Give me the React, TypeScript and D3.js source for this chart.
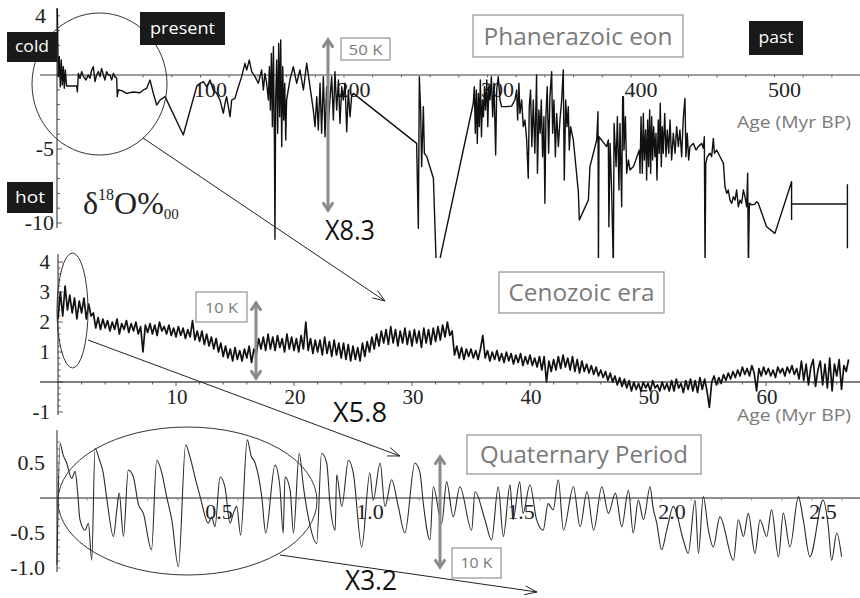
import React from "react";
import * as d3 from "d3";

type Pt = [number, number];

// Phanerozoic δ18O record: [age (Myr BP), δ18O ‰]; null splits the path
const phanerozoic: (Pt | null)[] = [
  [0.2, 4.5], [0.9, -0.11], [1.6, 1.24], [2.3, -0.79], [3.0, 1.01], [3.7, -0.68], [4.4, 0.56], [5.1, -0.9],
  [5.8, 0.34], [6.7, -0.74], [7.9, -0.74], [13.7, -0.74], [14.2, -1.13], [14.9, 0.11], [16.0, -0.22],
  [17.2, 0.23], [18.4, -0.11], [20.2, -0.34], [21.8, 0], [23.0, -0.22], [24.2, 0.34], [25.3, 0.56],
  [26.5, -0.45], [27.6, 0], [28.8, 0.23], [30.0, -0.11], [31.1, 0.45], [32.3, 0], [33.4, -0.34],
  [34.6, 0.23], [35.8, 0], [36.9, 0], [38.1, -0.34], [39.3, 0.11], [40.4, -0.11], [41.6, -0.22],
  [42.0, -1.46], [42.7, -1.01], [45.1, -1.06], [48.5, -1.24], [53.2, -1.15], [57.8, -1.2], [60.2, -1.01],
  [62.5, -0.9], [64.8, -0.34], [67.1, -1.24], [69.5, -2.03], [71.8, -1.69], [75.3, -1.46], [88.0, -4.05],
  [97.3, -0.79], [99.7, -0.56], [102.0, -0.45], [104.3, -0.79], [106.6, -0.34], [108.9, -1.01],
  [111.3, -1.24], [113.6, -1.69], [115.9, -2.59], [117.1, -1.91], [118.2, -1.46], [120.6, -2.82],
  [121.7, -1.69], [124.0, -1.58], [126.4, -0.79], [128.7, -0.11], [131.0, 0.79], [132.2, 0.34],
  [134.0, 1.01], [135.7, 0.23], [138.0, -0.11], [140.3, -0.56], [142.6, 0.34], [143.8, -1.01],
  [144.9, 0.11], [146.1, -0.56], [147.3, -1.69], [148.0, 0.56], [148.7, -2.36], [149.4, 1.46],
  [150.1, -3.49], [150.8, 1.91], [151.5, -4.39], [151.9, -11.1], [152.4, -1.69], [153.1, 1.01],
  [153.8, -3.94], [154.5, 2.14], [155.2, -2.82], [155.9, 2.36], [156.6, -4.84], [157.3, 0.56],
  [158.0, -3.04], [158.7, -0.56], [159.4, -4.39], [160.0, -1.69], [162.3, -0.34], [164.7, 0.56],
  [167.0, -0.56], [169.3, 0.34], [171.7, -1.01], [174.0, 0.79], [176.3, -0.79], [178.6, -2.36],
  [179.8, -3.49], [181.0, -1.46], [182.1, -3.72], [183.3, -0.56], [184.4, -3.94], [185.6, -0.11],
  [186.8, -4.17], [187.9, -0.79], [189.1, -3.27], [190.2, -1.69], [191.4, -0.11], [192.6, -3.04],
  [193.7, 0.23], [194.9, -2.36], [196.1, -0.34], [197.2, -3.27], [198.4, -0.79], [199.5, -1.69],
  [200.7, -0.56], [201.9, -3.83], [203.0, -1.01], [204.2, -2.82], [205.3, -1.46], [206.5, -1.24],
  [250.6, -4.62], [251.8, -10.36], [252.5, -0.11], [253.4, -2.36], [254.1, -6.19], [255.3, -2.14],
  [256.0, -5.29], [257.7, -5.52], [262.3, -6.98], [264.5, -13.5], [290.1, -1.91], [290.8, -0.79],
  [291.5, -3.94], [292.2, -1.01], [292.9, -4.62], [293.6, -1.24], [294.3, -3.49], [295.0, -0.34],
  [295.8, -4.17], [296.5, -1.69], [297.2, -2.82], [297.9, -0.79], [298.6, -2.36], [299.5, -0.34],
  [300.2, -3.49], [300.9, -0.79], [301.7, -1.69], [302.7, -0.11], [303.6, -2.82], [304.5, -0.56],
  [305.7, -5.4], [306.4, -1.01], [307.5, -0.11], [308.7, -1.69], [309.8, -2.14], [313.3, -2.14],
  [316.8, -2.1], [319.1, -1.69], [320.3, -1.01], [321.0, -3.04], [321.9, -0.56], [322.6, -2.59],
  [323.8, -1.69], [324.9, -3.49], [326.1, -3.04], [327.3, -4.39], [328.4, -6.98], [329.1, -2.14],
  [330.0, -1.01], [330.9, -4.84], [331.9, -1.69], [333.0, -5.29], [334.2, 0], [334.8, -6.64],
  [335.8, -2.36], [336.7, -3.94], [337.5, -1.69], [338.4, -5.52], [339.3, -2.82], [340.0, -8.67],
  [340.7, -2.82], [341.6, -0.79], [342.6, -5.29], [343.5, -1.46], [344.7, 0.23], [345.4, -3.94],
  [346.3, -1.69], [347.3, -5.52], [348.2, -2.59], [349.4, -4.84], [350.5, -3.04], [351.7, -1.69],
  [352.8, 0.34], [353.5, -7.09], [354.5, -1.69], [355.4, -3.49], [356.3, -2.14], [357.0, -5.07],
  [357.9, -3.49], [359.8, -4.39], [363.3, -7.88], [364.0, -9.8], [366.8, -9.2], [370.3, -8.45],
  [371.4, -6.19], [376.1, -4.39], [377.0, -2.48], [377.3, -13], [377.7, -4.17], [383.0, -4.84],
  [384.2, -4.39], [384.6, -10.25], [385.4, -4.62], [386.5, -7.77], [387.7, -13], [388.2, -3.27],
  [389.6, -6.19], [390.5, -2.82], [391.6, -7.77], [392.3, -3.27], [393.5, -8.9], [394.2, -1.46],
  [394.7, -1.46], [395.1, -5.07], [396.1, -2.82], [397.0, -6.64], [398.2, -5.74], [399.3, -6.42],
  [401.7, -6.19], [405.8, -5.07], [406.3, -6.64], [407.0, -2.82], [407.9, -6.64], [408.6, -2.59],
  [409.3, -5.74], [410.2, -3.72], [410.9, -7.09], [411.6, -3.04], [412.3, -6.19], [413.0, -2.36],
  [413.7, -6.64], [414.4, -2.82], [415.1, -5.74], [415.8, -3.49], [416.7, -5.52], [417.4, -3.94],
  [418.1, -7.09], [419.0, -3.04], [419.7, -5.29], [420.4, -1.91], [421.1, -6.19], [421.8, -3.49],
  [422.5, -5.29], [423.5, -2.59], [424.4, -5.52], [425.3, -3.72], [426.3, -5.29], [427.2, -3.04],
  [428.3, -5.74], [429.5, -3.94], [430.7, -5.29], [431.8, -3.49], [433.0, -4.84], [434.1, -3.72],
  [435.3, -5.52], [436.5, -2.82], [437.6, -1.58], [438.3, -5.52], [439.2, -3.94], [440.2, -5.74],
  [441.1, -4.84], [443.4, -4.62], [445.3, -5.07], [446.9, -4.84], [449.3, -4.62], [450.4, -4.95],
  [451.1, -4.17], [451.6, -13], [452.1, -5.97], [453.2, -5.52], [455.1, -5.29], [456.2, -5.52],
  [457.4, -4.28], [458.1, -5.29], [459.7, -5.07], [463.2, -5.74], [464.4, -5.97], [464.8, -6.53],
  [465.5, -7.55], [466.7, -8.0], [467.8, -7.77], [469.0, -8.45], [470.2, -8.67], [471.3, -8.22],
  [472.5, -8.45], [473.6, -7.77], [474.8, -8.9], [475.9, -8.45], [477.1, -8.67], [478.3, -7.77],
  [479.4, -8.22], [480.6, -8.9], [481.3, -6.64], [481.8, -13], [482.5, -8.67], [484.1, -8.78],
  [486.4, -8.72], [487.6, -8.56], [488.7, -8.67], [494.5, -10.25], [500.3, -10.7], [511.9, -7.21],
  [511.9, -9.8], null, [511.9, -8.72], [550.2, -8.72], null, [550.8, -7.38], [550.8, -11.71],
];

// Cenozoic δ18O, sampled every 0.2 Myr from 0 Myr BP
const cenozoicStep = 0.2;
const cenozoicValues: number[] = [
  2.1, 3.0, 2.2, 3.2, 2.4, 2.9, 2.3, 2.8, 2.1, 2.7,
  2.3, 2.8, 2.1, 2.6, 2.2, 2.3, 1.8, 2.15, 1.75, 2.1,
  1.8, 2.05, 1.7, 2.0, 1.75, 2.1, 1.6, 1.95, 1.75, 2.05,
  1.65, 1.95, 1.7, 2.0, 1.6, 1.85, 1.0, 1.9, 1.65, 1.95,
  1.6, 1.9, 1.55, 2.0, 1.7, 1.85, 1.6, 1.9, 1.55, 1.8,
  1.5, 1.85, 1.55, 1.8, 1.45, 1.75, 1.5, 2.05, 1.4, 1.7,
  1.35, 1.7, 1.25, 1.6, 1.2, 1.5, 1.1, 1.45, 1.0, 1.3,
  0.85, 1.2, 0.8, 1.1, 0.7, 1.15, 0.75, 1.05, 0.7, 1.1,
  0.8, 1.2, 0.65, 1.1, 0.9, 1.45, 1.1, 1.5, 1.05, 1.6,
  1.1, 1.5, 1.05, 1.55, 1.15, 1.45, 1.0, 1.6, 1.1, 1.5,
  1.05, 1.45, 1.0, 1.55, 1.1, 2.0, 1.05, 1.45, 0.95, 1.4,
  1.0, 1.4, 0.9, 1.5, 0.95, 1.35, 0.85, 1.4, 0.9, 1.3,
  0.8, 1.3, 0.75, 1.25, 0.7, 1.2, 0.75, 1.15, 0.7, 1.3,
  0.85, 1.35, 1.0, 1.5, 1.1, 1.6, 1.2, 1.7, 1.3, 1.75,
  1.25, 1.85, 1.3, 1.75, 1.2, 1.7, 1.3, 1.8, 1.25, 1.7,
  1.2, 1.75, 1.3, 1.7, 1.15, 1.8, 1.3, 1.75, 1.25, 1.8,
  1.35, 1.85, 1.4, 1.9, 1.5, 2.0, 1.55, 1.7, 0.9, 1.2,
  0.8, 1.15, 0.75, 1.1, 0.85, 1.1, 0.8, 1.05, 0.75, 1.1,
  1.55, 0.8, 1.05, 0.7, 1.0, 0.75, 1.05, 0.7, 0.95, 0.65,
  1.0, 0.7, 0.95, 0.6, 0.9, 0.65, 0.95, 0.55, 0.85, 0.6,
  0.9, 0.55, 0.8, 0.5, 0.85, 0.4, 0.85, 0.0, 0.7, 0.35,
  0.75, 0.4, 0.85, 0.45, 0.9, 0.5, 0.8, 0.4, 0.85, 0.35,
  0.75, 0.3, 0.7, 0.35, 0.6, 0.3, 0.55, 0.25, 0.5, 0.2,
  0.4, 0.15, 0.35, 0.05, 0.3, 0.0, 0.2, -0.1, 0.15, -0.15,
  0.1, -0.2, 0.05, -0.3, 0.0, -0.25, -0.05, -0.3, 0.0, -0.2,
  -0.05, -0.3, 0.05, -0.2, -0.1, -0.3, 0.0, -0.25, -0.05, -0.3,
  0.05, -0.3, 0.1, -0.2, -0.05, -0.35, 0.05, -0.25, 0.1, -0.3,
  0.05, -0.35, 0.15, -0.25, 0.1, -0.3, -0.85, 0.0, 0.2, -0.1,
  0.15, -0.05, 0.25, 0.05, 0.3, 0.1, 0.35, 0.15, 0.4, 0.2,
  0.5, 0.25, 0.45, 0.2, 0.55, 0.3, -0.3, 0.45, 0.2, 0.5,
  0.25, 0.45, 0.2, 0.4, 0.15, 0.5, 0.3, 0.45, 0.2, 0.5,
  0.3, 0.55, 0.25, 0.45, 0.1, 0.7, 0.05, 0.6, -0.1, 0.5,
  0.75, -0.15, 0.4, 0.7, -0.1, 0.6, -0.2, 0.8, -0.3, 0.6,
  0.2, 0.75, -0.25, 0.55, 0.35, 0.75,
];

// Quaternary δ18O anomaly: [age (Myr BP), value]
const quaternary: Pt[] = [
  [0, -0.95], [0.01, 0.78], [0.02, 0.62], [0.032, 0.5], [0.049, 0.28], [0.06, 0.38], [0.068, 0.1],
  [0.076, -0.31], [0.093, -0.46], [0.104, -0.36], [0.115, -0.89], [0.126, 0.71], [0.14, 0.55],
  [0.153, 0.36], [0.164, 0.02], [0.187, -0.55], [0.198, -0.17], [0.206, 0.07], [0.22, -0.55],
  [0.236, 0.4], [0.253, 0.3], [0.269, -0.08], [0.286, -0.22], [0.313, -0.74], [0.33, 0.54],
  [0.347, 0.36], [0.363, 0.02], [0.38, -0.31], [0.402, -0.98], [0.426, 0.76], [0.44, 0.59],
  [0.462, 0.21], [0.474, 0.02], [0.501, -0.36], [0.512, -0.27], [0.523, -0.41], [0.54, 0.3],
  [0.556, 0.16], [0.573, -0.36], [0.584, -0.22], [0.595, -0.12], [0.608, -0.53], [0.63, 0.83],
  [0.643, 0.6], [0.656, 0.5], [0.678, 0.02], [0.691, -0.5], [0.722, 0.47], [0.738, 0.16],
  [0.749, -0.5], [0.755, 0.3], [0.772, 0.11], [0.783, -0.5], [0.802, 0.64], [0.816, 0.16],
  [0.832, -0.27], [0.86, -0.65], [0.876, 0.64], [0.893, 0.5], [0.904, -0.08], [0.921, -0.46],
  [0.926, 0.33], [0.943, -0.12], [0.965, 0.54], [0.981, 0.36], [1.009, -0.7], [1.036, 0.36],
  [1.047, -0.03], [1.07, 0.5], [1.086, -0.12], [1.108, 0.26], [1.13, -0.12], [1.152, -0.5],
  [1.185, 0.5], [1.202, 0.36], [1.213, -0.08], [1.235, -0.6], [1.246, 0.16], [1.274, -0.36],
  [1.29, 0.23], [1.312, -0.27], [1.334, 0.16], [1.373, -0.46], [1.384, 0.09], [1.417, -0.31],
  [1.439, -0.6], [1.461, 0.16], [1.478, -0.55], [1.5, 0.19], [1.51, -0.31], [1.532, 0.23],
  [1.543, -0.22], [1.566, 0.19], [1.588, -0.31], [1.61, -0.46], [1.626, -0.08], [1.643, -0.17],
  [1.66, 0.26], [1.677, -0.46], [1.71, 0.16], [1.732, -0.41], [1.755, 0.09], [1.777, -0.46],
  [1.804, 0.16], [1.826, -0.22], [1.849, 0.07], [1.87, -0.41], [1.892, 0.11], [1.908, -0.5],
  [1.925, -0.03], [1.942, -0.31], [1.964, 0.16], [1.973, -0.12], [1.986, -0.36], [2.002, -0.74],
  [2.019, -0.46], [2.041, -0.12], [2.074, -0.6], [2.09, -0.79], [2.113, -0.03], [2.124, -0.79],
  [2.14, 0.02], [2.157, -0.46], [2.173, -0.7], [2.195, -0.27], [2.24, -0.89], [2.256, -0.31],
  [2.273, -0.55], [2.289, -0.22], [2.311, -0.79], [2.328, -0.31], [2.35, -0.55], [2.366, -0.17],
  [2.389, -0.84], [2.405, -0.22], [2.427, -0.7], [2.455, 0.02], [2.471, -0.31], [2.493, -0.84],
  [2.537, -0.03], [2.554, -0.41], [2.565, -0.89], [2.582, -0.5], [2.598, -0.84],
];

const topAgeTicks = [100, 200, 300, 400, 500];
const topValueTicks = [4, -5, -10];
const midAgeTicks = [10, 20, 30, 40, 50, 60];
const midValueTicks = [4, 3, 2, 1, -1];
const botAgeTicks = [0.5, 1.0, 1.5, 2.0, 2.5];
const botValueTicks = [0.5, -0.5, -1.0];

const SERIF = "'Liberation Serif', 'DejaVu Serif', serif";
const SANS = "'Open Sans', 'Noto Sans', sans-serif";
const GRAY = "#7a7a7a";

const fmtInt = (v: number) => String(v).replace("\u2212", "-");
const fmt1 = (v: number) => v.toFixed(1);

function chevron(x1: number, y1: number, x2: number, y2: number, len: number, ang: number) {
  const t = Math.atan2(y1 - y2, x1 - x2);
  const a = [x2 + len * Math.cos(t + ang), y2 + len * Math.sin(t + ang)];
  const b = [x2 + len * Math.cos(t - ang), y2 + len * Math.sin(t - ang)];
  return `M${a[0]},${a[1]}L${x2},${y2}L${b[0]},${b[1]}`;
}

function Connector({ x1, y1, x2, y2 }: { x1: number; y1: number; x2: number; y2: number }) {
  return (
    <g stroke="#222" strokeWidth={1} fill="none">
      <line x1={x1} y1={y1} x2={x2} y2={y2} />
      <path d={chevron(x1, y1, x2, y2, 13, 0.35)} />
    </g>
  );
}

function DoubleArrow({ x, y1, y2 }: { x: number; y1: number; y2: number }) {
  return (
    <g stroke="#8a8a8a" strokeWidth={3} fill="none" strokeLinecap="round">
      <line x1={x} y1={y1} x2={x} y2={y2} />
      <path d={chevron(x, y2, x, y1, 8, 0.6)} />
      <path d={chevron(x, y1, x, y2, 8, 0.6)} />
    </g>
  );
}

function OutlineLabel({ x, y, w, h, text, size, textW, base }: {
  x: number; y: number; w: number; h: number; text: string; size: number; textW: number; base: number;
}) {
  return (
    <g>
      <rect x={x} y={y} width={w} height={h} fill="white" stroke="#9a9a9a" strokeWidth={1.3} />
      <text x={x + w / 2} y={base} textAnchor="middle" fontFamily={SANS} fontSize={size} fill={GRAY}
        textLength={textW} lengthAdjust="spacingAndGlyphs">{text}</text>
    </g>
  );
}

function DarkLabel({ x, y, w, h, text, textW, base }: {
  x: number; y: number; w: number; h: number; text: string; textW: number; base: number;
}) {
  return (
    <g>
      <rect x={x} y={y} width={w} height={h} fill="#1a1a1a" />
      <text x={x + w / 2} y={base} textAnchor="middle" fontFamily={SANS} fontSize={17} fill="white"
        textLength={textW} lengthAdjust="spacingAndGlyphs">{text}</text>
    </g>
  );
}

export default function App() {
  // panel scales
  const xTop = d3.scaleLinear().domain([0, 560]).range([57, 57 + 560 * 1.435]);
  const yTop = d3.scaleLinear().domain([-10, 4]).range([223, 15.8]);
  const xMid = d3.scaleLinear().domain([0, 68]).range([58, 58 + 68 * 11.8]);
  const yMid = d3.scaleLinear().domain([-1, 4]).range([412, 262]);
  const xBot = d3.scaleLinear().domain([0, 2.65]).range([57, 57 + 2.65 * 302]);
  const yBot = d3.scaleLinear().domain([-1, 0.5]).range([568, 463]);

  const topLine = d3.line<Pt | null>()
    .defined((d) => d !== null)
    .x((d) => xTop((d as Pt)[0]))
    .y((d) => yTop((d as Pt)[1]));
  const midLine = d3.line<number>()
    .x((_, i) => xMid(i * cenozoicStep))
    .y((d) => yMid(d));
  const botLine = d3.line<Pt>()
    .x((d) => xBot(d[0]))
    .y((d) => yBot(d[1]))
    .curve(d3.curveMonotoneX);

  const topMinor = d3.range(20, 560, 20);
  const midMinor = d3.range(2, 68, 2);
  const botMinor = d3.range(0.1, 2.65, 0.1);
  const topYMinor = d3.range(-10, 4.01, 1);
  const midYMinor = d3.range(-1, 4.01, 0.2);
  const botYMinor = d3.range(-1, 0.81, 0.1);

  return (
    <svg width={860} height={598} viewBox="0 0 860 598"
      style={{ position: "absolute", left: 0, top: 0, background: "white" }}>
      <defs>
        <clipPath id="clipTop"><rect x={50} y={0} width={810} height={258} /></clipPath>
        <clipPath id="clipMid"><rect x={50} y={245} width={810} height={175} /></clipPath>
        <clipPath id="clipBot"><rect x={50} y={425} width={810} height={170} /></clipPath>
      </defs>

      {/* ---------- Phanerozoic panel ---------- */}
      <g>
        <line x1={40} x2={860} y1={yTop(0)} y2={yTop(0)} stroke="#7c7c7c" strokeWidth={1.6} />
        {topMinor.map((t) => (
          <line key={t} x1={xTop(t)} x2={xTop(t)} y1={yTop(0)} y2={yTop(0) + 2.5} stroke="#666" strokeWidth={1} />
        ))}
        <line x1={57} x2={57} y1={8} y2={228} stroke="#222" strokeWidth={1} />
        {topYMinor.map((t) => (
          <line key={t} x1={57} x2={t % 5 === 0 ? 62 : 60} y1={yTop(t)} y2={yTop(t)} stroke="#333" strokeWidth={0.8} />
        ))}
        {topValueTicks.map((t) => (
          <text key={t} x={t === 4 ? 46 : 54} y={yTop(t) + 7} textAnchor="end" fontFamily={SERIF} fontSize={22} fill="#222">
            {fmtInt(t)}
          </text>
        ))}
        {topAgeTicks.map((t) => (
          <text key={t} x={xTop(t) + 10} y={97} textAnchor="middle" fontFamily={SERIF} fontSize={22} fill="#222">
            {t}
          </text>
        ))}
        <path d={topLine(phanerozoic) ?? ""} fill="none" stroke="#111" strokeWidth={1.4}
          strokeLinejoin="round" clipPath="url(#clipTop)" />
        <text x={851} y={128} textAnchor="end" fontFamily={SANS} fontSize={17} fill={GRAY}
          textLength={114} lengthAdjust="spacingAndGlyphs">Age (Myr BP)</text>

        <ellipse cx={99.5} cy={84} rx={67.5} ry={71} fill="none" stroke="#333" strokeWidth={1} />
        <Connector x1={143} y1={138} x2={385} y2={301} />
        <DoubleArrow x={328} y1={40} y2={210} />
        <OutlineLabel x={341} y={38} w={49} h={22} text="50 K" size={15} textW={34} base={55} />
        <OutlineLabel x={473} y={15} w={210} h={42} text="Phanerazoic eon" size={24} textW={189} base={45} />
        <DarkLabel x={7} y={32} w={50} h={30} text="cold" textW={34} base={52} />
        <DarkLabel x={140} y={12} w={85} h={33} text="present" textW={65} base={34} />
        <DarkLabel x={7} y={182} w={46} h={31} text="hot" textW={30} base={203} />
        <DarkLabel x={749} y={21} w={54} h={34} text="past" textW={35} base={43} />
        <text x={83} y={214} fontFamily={SERIF} fontSize={32} fill="#222">
          δ<tspan fontSize={16} dy={-14}>18</tspan><tspan dy={14}>O%</tspan><tspan fontSize={15} dy={5}>00</tspan>
        </text>
        <text x={350} y={240} textAnchor="middle" fontFamily={SANS} fontSize={27} fill="#111"
          textLength={50} lengthAdjust="spacingAndGlyphs">X8.3</text>
      </g>

      {/* ---------- Cenozoic panel ---------- */}
      <g>
        <line x1={40} x2={860} y1={yMid(0)} y2={yMid(0)} stroke="#555" strokeWidth={1.3} />
        {midMinor.map((t) => (
          <line key={t} x1={xMid(t)} x2={xMid(t)} y1={yMid(0)} y2={yMid(0) + (t % 10 === 0 ? 4 : 2.5)} stroke="#555" strokeWidth={1} />
        ))}
        <line x1={58} x2={58} y1={254} y2={415} stroke="#222" strokeWidth={1} />
        {midYMinor.map((t) => (
          <line key={t.toFixed(1)} x1={58} x2={Math.abs(t - Math.round(t)) < 1e-6 ? 63 : 60.5} y1={yMid(t)} y2={yMid(t)} stroke="#333" strokeWidth={0.8} />
        ))}
        {midValueTicks.map((t) => (
          <text key={t} x={50} y={yMid(t) + 7} textAnchor="end" fontFamily={SERIF} fontSize={21} fill="#222">
            {fmtInt(t)}
          </text>
        ))}
        {midAgeTicks.map((t) => (
          <text key={t} x={xMid(t) + 1} y={404} textAnchor="middle" fontFamily={SERIF} fontSize={21} fill="#222">
            {t}
          </text>
        ))}
        <path d={midLine(cenozoicValues) ?? ""} fill="none" stroke="#111" strokeWidth={1.7}
          strokeLinejoin="round" clipPath="url(#clipMid)" />
        <text x={851} y={421} textAnchor="end" fontFamily={SANS} fontSize={17} fill={GRAY}
          textLength={114} lengthAdjust="spacingAndGlyphs">Age (Myr BP)</text>

        <ellipse cx={72.5} cy={310.5} rx={15.5} ry={57.5} fill="none" stroke="#333" strokeWidth={1} />
        <Connector x1={88} y1={340} x2={400} y2={456} />
        <DoubleArrow x={256} y1={303} y2={378} />
        <OutlineLabel x={196} y={292} w={51} h={30} text="10 K" size={15} textW={33} base={313} />
        <OutlineLabel x={499} y={272} w={165} h={41} text="Cenozoic era" size={24} textW={146} base={301} />
        <text x={360} y={422} textAnchor="middle" fontFamily={SANS} fontSize={27} fill="#111"
          textLength={54} lengthAdjust="spacingAndGlyphs">X5.8</text>
      </g>

      {/* ---------- Quaternary panel ---------- */}
      <g>
        <line x1={40} x2={860} y1={yBot(0)} y2={yBot(0)} stroke="#222" strokeWidth={1.2} />
        {botMinor.map((t) => (
          <line key={t.toFixed(1)} x1={xBot(t)} x2={xBot(t)} y1={yBot(0)} y2={yBot(0) + 2.5} stroke="#777" strokeWidth={0.8} />
        ))}
        <line x1={57} x2={57} y1={430} y2={572} stroke="#222" strokeWidth={1} />
        {botYMinor.map((t) => (
          <line key={t.toFixed(1)} x1={57} x2={60} y1={yBot(t)} y2={yBot(t)} stroke="#555" strokeWidth={0.8} />
        ))}
        {botValueTicks.map((t) => (
          <text key={t} x={45} y={yBot(t) + 7} textAnchor="end" fontFamily={SERIF} fontSize={22} fill="#222">
            {fmt1(t)}
          </text>
        ))}
        {botAgeTicks.map((t) => (
          <text key={t} x={xBot(t) + 11} y={519} textAnchor="middle" fontFamily={SERIF} fontSize={22} fill="#222">
            {fmt1(t)}
          </text>
        ))}
        <path d={botLine(quaternary) ?? ""} fill="none" stroke="#2a2a2a" strokeWidth={1.1}
          strokeLinejoin="round" clipPath="url(#clipBot)" />

        <ellipse cx={187.5} cy={501} rx={129.5} ry={74} fill="none" stroke="#333" strokeWidth={1} />
        <Connector x1={280} y1={555} x2={537} y2={592} />
        <DoubleArrow x={440} y1={457} y2={567} />
        <OutlineLabel x={452} y={548} w={49} h={30} text="10 K" size={15} textW={32} base={568} />
        <OutlineLabel x={467} y={435} w={234} h={39} text="Quaternary Period" size={24} textW={208} base={463} />
        <text x={371} y={590} textAnchor="middle" fontFamily={SANS} fontSize={27} fill="#111"
          textLength={52} lengthAdjust="spacingAndGlyphs">X3.2</text>
      </g>
    </svg>
  );
}
